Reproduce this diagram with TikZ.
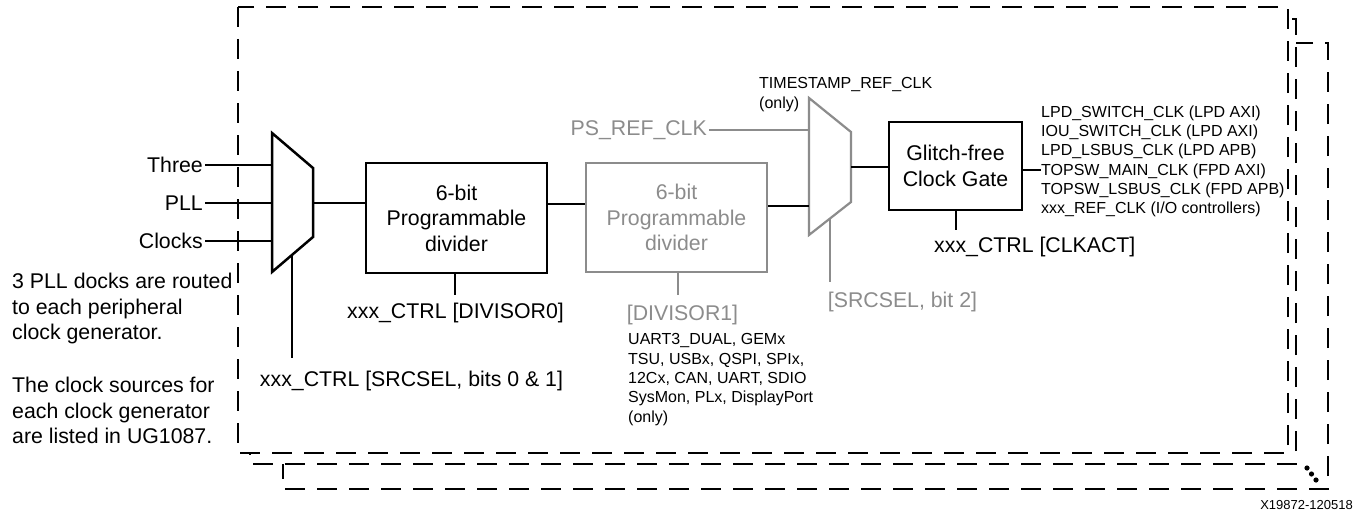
\documentclass[tikz,border=0pt]{standalone}
\usepackage{fontspec}
\setmainfont{Liberation Sans}
\definecolor{mgray}{RGB}{140,140,140}
\tikzset{
  big/.style={font=\fontsize{21.3}{25.5}\selectfont},
  small/.style={font=\fontsize{16}{19.3}\selectfont},
  tiny/.style={font=\fontsize{13}{15}\selectfont},
  frame/.style={draw=black,fill=white,line width=2.4pt,dash pattern=on 20pt off 12pt},
  blk/.style={draw=black,line width=2.5pt,inner sep=0pt,align=center,big},
  gblk/.style={blk,draw=mgray,text=mgray,line width=2.2pt},
  wire/.style={line width=1.2pt},
  gwire/.style={line width=1.5pt,draw=mgray},
  mux/.style={draw=black,line width=2.5pt,line join=miter},
  gmux/.style={draw=mgray,line width=2.2pt,line join=miter},
  lbl/.style={inner sep=2pt,big},
  txt/.style={inner sep=0pt,align=left},
}
\begin{document}
\begin{tikzpicture}[x=1pt,y=-1pt]
\useasboundingbox (0,0) rectangle (1355,519);
% stacked dashed frames
\draw[frame] (283,43) rectangle (1328,489);
\draw[frame] (250,19) rectangle (1296,464);
\draw[frame] (238,7) rectangle (1288,453);
\fill (1307,468) circle (2.6pt) (1311.5,474) circle (2.6pt) (1316,480) circle (2.6pt);

% blocks
\node[blk,minimum width=181pt,minimum height=110pt] (b1) at (456.5,218) {6-bit\\Programmable\\divider};
\node[gblk,minimum width=181pt,minimum height=109pt] (b2) at (676.5,217.5) {6-bit\\Programmable\\divider};
\node[blk,minimum width=133pt,minimum height=88pt] (gate) at (955.5,166) {Glitch-free\\Clock Gate};

% mux coordinates
\coordinate (m1i1) at (272,165);
\coordinate (m1i2) at (272,203);
\coordinate (m1i3) at (272,241);
\coordinate (m1o) at (313,203);
\coordinate (m1s) at (292,255);
\coordinate (m1e) at (292,358);
\coordinate (m2i1) at (809,130);
\coordinate (m2i2) at (809,206);
\coordinate (m2o) at (851,167);
\coordinate (m2s) at (830,218.5);
\coordinate (m2e) at (830,282);
\coordinate (r1) at (560,204);
\coordinate (gout) at (1030,170);
\coordinate (b1e) at (455,295);
\coordinate (b2e) at (678,295);
\coordinate (ge) at (956,230);

% input labels
\node[lbl,anchor=east] (three) at (205,165) {Three};
\node[lbl,anchor=east] (pll) at (205,203) {PLL};
\node[lbl,anchor=east] (clocks) at (205,241) {Clocks};
\draw[wire] (three) -- (m1i1);
\draw[wire] (pll) -- (m1i2);
\draw[wire] (clocks) -- (m1i3);

% muxes
\draw[mux] (272,133) -- (313,168) -- (313,237) -- (272,272) -- cycle;
\draw[gmux] (809,98) -- (851,132) -- (851,202) -- (809,235) -- cycle;

% chain
\draw[wire] (m1o) -- (m1o -| b1.west);
\draw[wire] (r1 -| b1.east) -- (r1 -| b2.west);
\draw[wire] (m2i2 -| b2.east) -- (m2i2);
\draw[wire] (m2o) -- (m2o -| gate.west);

\node[lbl,anchor=east,text=mgray] (ps) at (709,130) {PS\_REF\_CLK};
\draw[gwire] (ps) -- (m2i1);
\node[txt,small,anchor=west] (ts) at (759,94.5) {TIMESTAMP\_REF\_CLK\\(only)};

% control lines and labels
\draw[wire] (m1s) -- (m1e);
\node[lbl] (srcsel) at (411.5,381) {xxx\_CTRL [SRCSEL, bits 0 \& 1]};
\draw[wire] (b1e |- b1.south) -- (b1e);
\node[lbl] (div0) at (455.5,313) {xxx\_CTRL [DIVISOR0]};
\draw[gwire] (b2e |- b2.south) -- (b2e);
\node[lbl,text=mgray] (div1) at (682.5,315) {[DIVISOR1]};
\node[txt,small,anchor=west] (periph) at (628,379.5) {UART3\_DUAL, GEMx\\TSU, USBx, QSPI, SPIx,\\12Cx, CAN, UART, SDIO\\SysMon, PLx, DisplayPort\\(only)};
\draw[gwire] (m2s) -- (m2e);
\node[lbl,text=mgray] (src2) at (902.5,302) {[SRCSEL, bit 2]};
\draw[wire] (ge |- gate.south) -- (ge);
\node[lbl,anchor=west] (clkact) at (932,247) {xxx\_CTRL [CLKACT]};

% outputs
\node[txt,small,anchor=west] (list) at (1041,161.5) {LPD\_SWITCH\_CLK (LPD AXI)\\IOU\_SWITCH\_CLK (LPD AXI)\\LPD\_LSBUS\_CLK (LPD APB)\\TOPSW\_MAIN\_CLK (FPD AXI)\\TOPSW\_LSBUS\_CLK (FPD APB)\\xxx\_REF\_CLK (I/O controllers)};
\draw[wire] (gout -| gate.east) -- (gout -| list.west);

% notes
\node[txt,big,anchor=west] (note1) at (12,308.5) {3 PLL docks are routed\\to each peripheral\\clock generator.};
\node[txt,big,anchor=west] (note2) at (12,410.5) {The clock sources for\\each clock generator\\are listed in UG1087.};
\node[txt,tiny,anchor=east] (fig) at (1353,505) {X19872-120518};
\end{tikzpicture}
\end{document}
